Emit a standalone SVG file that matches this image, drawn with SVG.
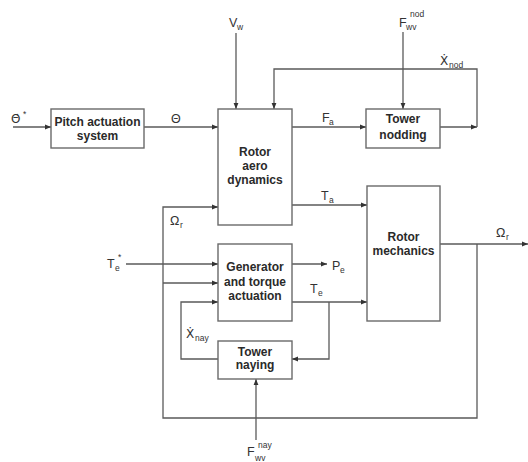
<svg xmlns="http://www.w3.org/2000/svg" width="528" height="462" viewBox="0 0 528 462">
<style>
.box{fill:#fff;stroke:#6a6a6a;stroke-width:1.4}
.bt{font-family:"Liberation Sans",Arial,sans-serif;font-weight:bold;font-size:12px;fill:#2a2a2a;text-anchor:middle}
.lb{font-family:"Liberation Sans","DejaVu Sans",Arial,sans-serif;font-size:12.5px;fill:#333}
.dj{font-family:"DejaVu Sans",sans-serif;font-size:12px;fill:#333}
.sb{font-family:"Liberation Sans",Arial,sans-serif;font-size:8.5px;fill:#333}
.ln{fill:none;stroke:#5a5a5a;stroke-width:1.3}
</style>
<defs>
<marker id="ar" viewBox="0 0 6 6" refX="6" refY="3" markerWidth="6" markerHeight="6" markerUnits="userSpaceOnUse" orient="auto">
<path d="M0,0.6 L6,3 L0,5.4 Z" fill="#333"/>
</marker>
</defs>
<rect width="528" height="462" fill="#fff"/>
<g id="connectors">
<path class="ln" d="M13,127 H51" marker-end="url(#ar)"/>
<path class="ln" d="M144,127 H218" marker-end="url(#ar)"/>
<path class="ln" d="M236,33 V109" marker-end="url(#ar)"/>
<path class="ln" d="M292,127 H366" marker-end="url(#ar)"/>
<path class="ln" d="M403,32 V109" marker-end="url(#ar)"/>
<path class="ln" d="M440,127 H477" marker-end="url(#ar)"/>
<path class="ln" d="M477,127 V69 H274 V109" marker-end="url(#ar)"/>
<path class="ln" d="M292,205 H367" marker-end="url(#ar)"/>
<path class="ln" d="M440,244 H528" marker-end="url(#ar)"/>
<path class="ln" d="M477,244 V418 H163 V207 H218" marker-end="url(#ar)"/>
<path class="ln" d="M163,283 H218" marker-end="url(#ar)"/>
<path class="ln" d="M126,264 H218" marker-end="url(#ar)"/>
<path class="ln" d="M292,264 H327" marker-end="url(#ar)"/>
<path class="ln" d="M292,302 H367" marker-end="url(#ar)"/>
<path class="ln" d="M329,302 V359 H292" marker-end="url(#ar)"/>
<path class="ln" d="M218,359 H181 V302 H218" marker-end="url(#ar)"/>
<path class="ln" d="M256,440 V379" marker-end="url(#ar)"/>
</g>
<g id="pitch">
<rect class="box" x="51" y="109" width="93" height="39"/>
<text class="bt" x="97.5" y="126">Pitch actuation</text>
<text class="bt" x="97.5" y="140">system</text>
</g>
<g id="aero">
<rect class="box" x="218" y="109" width="74" height="116"/>
<text class="bt" x="255" y="156">Rotor</text>
<text class="bt" x="255" y="170">aero</text>
<text class="bt" x="255" y="184">dynamics</text>
</g>
<g id="nodding">
<rect class="box" x="366" y="109" width="74" height="39"/>
<text class="bt" x="403" y="123">Tower</text>
<text class="bt" x="403" y="139">nodding</text>
</g>
<g id="mechanics">
<rect class="box" x="367" y="186" width="73" height="135"/>
<text class="bt" x="403.5" y="241">Rotor</text>
<text class="bt" x="403.5" y="255">mechanics</text>
</g>
<g id="generator">
<rect class="box" x="218" y="244" width="74" height="77"/>
<text class="bt" x="255" y="271">Generator</text>
<text class="bt" x="255" y="286">and torque</text>
<text class="bt" x="255" y="300">actuation</text>
</g>
<g id="naying">
<rect class="box" x="218" y="341" width="74" height="38"/>
<text class="bt" x="255" y="356">Tower</text>
<text class="bt" x="255" y="369">naying</text>
</g>
<g id="labels">
<text class="dj" x="11" y="123">Θ̇</text><text class="sb" x="23" y="117">*</text>
<text class="lb" x="171" y="123">Θ</text>
<text class="lb" x="229" y="27">V</text><text class="sb" x="237" y="30">w</text>
<text class="lb" x="399" y="27">F</text><text class="sb" x="406" y="30">wv</text><text class="sb" x="410" y="17">nod</text>
<text class="dj" x="440" y="65">Ẋ</text><text class="sb" x="449" y="68">nod</text>
<text class="lb" x="322" y="122">F</text><text class="sb" x="329" y="125">a</text>
<text class="lb" x="321" y="200">T</text><text class="sb" x="329" y="203">a</text>
<text class="lb" x="332" y="270">P</text><text class="sb" x="340" y="273">e</text>
<text class="lb" x="310" y="293">T</text><text class="sb" x="318" y="296">e</text>
<text class="lb" x="496" y="237">Ω</text><text class="sb" x="506" y="240">r</text>
<text class="lb" x="170" y="225">Ω</text><text class="sb" x="180" y="228">r</text>
<text class="lb" x="107" y="268">T</text><text class="sb" x="115" y="271">e</text><text class="sb" x="118" y="260">*</text>
<text class="dj" x="186" y="338">Ẋ</text><text class="sb" x="195" y="341">nay</text>
<text class="lb" x="247" y="456">F</text><text class="sb" x="255" y="461">wv</text><text class="sb" x="258" y="448">nay</text>
</g>
</svg>
